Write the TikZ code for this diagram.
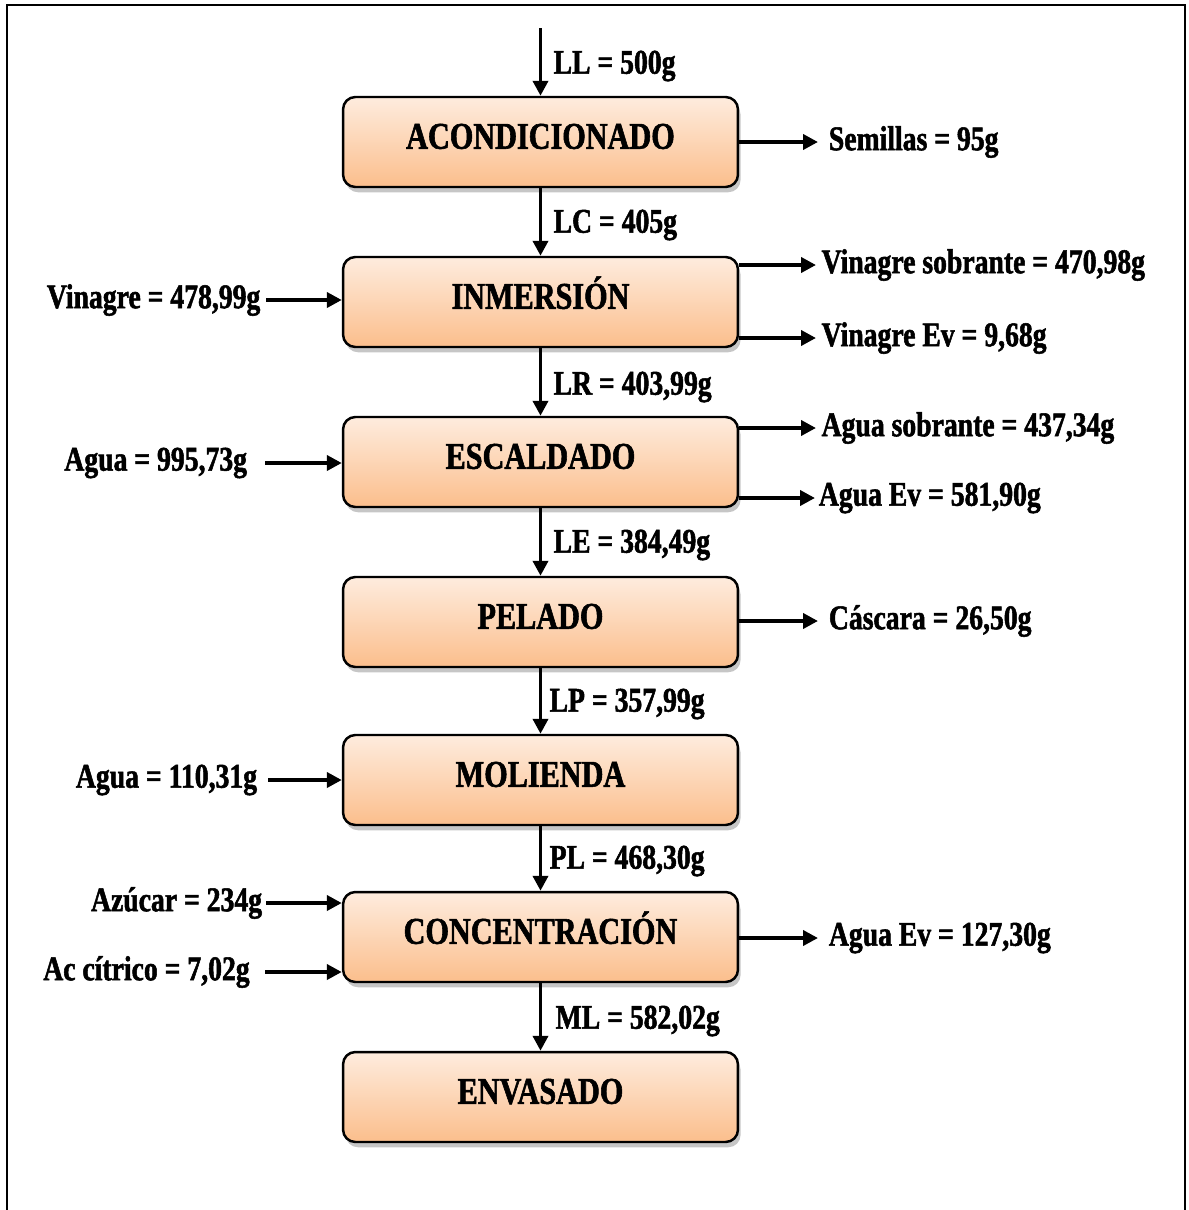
\documentclass[tikz,border=0pt]{standalone}
\usepackage{fontspec}
\setmainfont{Liberation Serif}[FakeStretch=0.8, BoldFeatures={FakeBold=1.5}]
\usepackage{tikz}
\usetikzlibrary{calc,arrows.meta,shadows}
\definecolor{durazno}{RGB}{254,236,222}
\definecolor{naranja}{RGB}{251,190,140}

\begin{document}
\begin{tikzpicture}[x=0.02cm,y=-0.02cm,
  caja/.style={draw, line width=1.4pt, rounded corners=7pt,
    minimum width=7.9cm, minimum height=1.8cm,
    top color=durazno, bottom color=naranja,
    drop shadow={shadow xshift=1.5pt, shadow yshift=-3pt, opacity=.45},
    font=\bfseries\fontsize{21.5}{24}\selectfont,
    text height=15pt, text depth=7.3pt},
  flujo/.style={line width=2.2pt, -{Triangle[length=8.5pt,width=8.5pt]}},
  dato/.style={font=\bfseries\fontsize{19.7}{22}\selectfont, inner xsep=3pt, inner ysep=0pt}]
      \useasboundingbox (0,0) rectangle (1189,1210);

      % MARCO
      \draw[line width=1.2pt] (7,1210) -- (7,5) -- (1185,5) -- (1185,1210);

      % CAJAS
      \node[caja] (acon) at (540.5,142) {ACONDICIONADO};
      \node[caja] (inm) at (540.5,302) {INMERSIÓN};
      \node[caja] (esc) at (540.5,462) {ESCALDADO};
      \node[caja] (pel) at (540.5,622) {PELADO};
      \node[caja] (mol) at (540.5,780) {MOLIENDA};
      \node[caja] (con) at (540.5,937) {CONCENTRACIÓN};
      \node[caja] (env) at (540.5,1097) {ENVASADO};

      % FLUJO PRINCIPAL
      \coordinate (ent) at (540.5,28);
      \draw[flujo] (ent) -- (acon.north);
      \draw[flujo] (acon.south) -- (inm.north);
      \draw[flujo] (inm.south) -- (esc.north);
      \draw[flujo] (esc.south) -- (pel.north);
      \draw[flujo] (pel.south) -- (mol.north);
      \draw[flujo] (mol.south) -- (con.north);
      \draw[flujo] (con.south) -- (env.north);

      \node[dato, anchor=west] (ll) at (548,66) {LL = 500g};
      \node[dato, anchor=west] (lc) at (548,225) {LC = 405g};
      \node[dato, anchor=west] (lr) at (548,387) {LR = 403,99g};
      \node[dato, anchor=west] (le) at (548,545) {LE = 384,49g};
      \node[dato, anchor=west] (lp) at (544,704) {LP = 357,99g};
      \node[dato, anchor=west] (pl) at (544,861) {PL = 468,30g};
      \node[dato, anchor=west] (ml) at (550,1021) {ML = 582,02g};

      % SALIDAS DERECHA
      \node[dato, anchor=west, inner xsep=6pt] (sem) at (818,142) {Semillas = 95g};
      \node[dato, anchor=west] (vsob) at (816,265) {Vinagre sobrante = 470,98g};
      \node[dato, anchor=west] (vev) at (816,338) {Vinagre Ev = 9,68g};
      \node[dato, anchor=west] (asob) at (816,428) {Agua sobrante = 437,34g};
      \node[dato, anchor=west, inner xsep=2pt] (aev) at (815,498) {Agua Ev = 581,90g};
      \node[dato, anchor=west, inner xsep=6pt] (cas) at (818,621) {Cáscara = 26,50g};
      \node[dato, anchor=west, inner xsep=6pt] (aevc) at (818,938) {Agua Ev = 127,30g};

      \draw[flujo] (acon.east |- sem.west) -- (sem.west);
      \draw[flujo] (inm.east |- vsob.west) -- (vsob.west);
      \draw[flujo] (inm.east |- vev.west) -- (vev.west);
      \draw[flujo] (esc.east |- asob.west) -- (asob.west);
      \draw[flujo] (esc.east |- aev.west) -- (aev.west);
      \draw[flujo] (pel.east |- cas.west) -- (cas.west);
      \draw[flujo] (con.east |- aevc.west) -- (aevc.west);

      % ENTRADAS IZQUIERDA
      \node[dato, anchor=east] (vin) at (266,300) {Vinagre = 478,99g};
      \node[dato, anchor=east, inner xsep=10pt] (agesc) at (265,463) {Agua = 995,73g};
      \node[dato, anchor=east, inner xsep=6pt] (agmol) at (268,780) {Agua = 110,31g};
      \node[dato, anchor=east, inner xsep=2pt] (azu) at (266,903) {Azúcar = 234g};
      \node[dato, anchor=east, inner xsep=8.5pt] (acc) at (265,972) {Ac cítrico = 7,02g};

      \draw[flujo] (vin.east) -- (vin.east -| inm.west);
      \draw[flujo] (agesc.east) -- (agesc.east -| esc.west);
      \draw[flujo] (agmol.east) -- (agmol.east -| mol.west);
      \draw[flujo] (azu.east) -- (azu.east -| con.west);
      \draw[flujo] (acc.east) -- (acc.east -| con.west);
\end{tikzpicture}
\end{document}
